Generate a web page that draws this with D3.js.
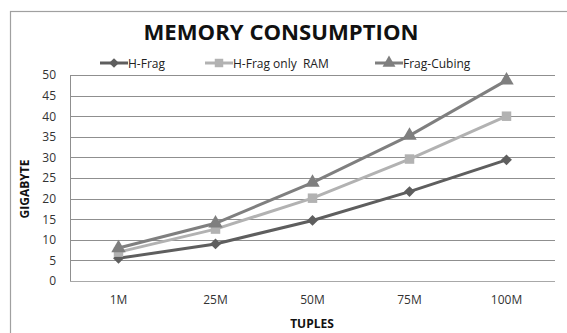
<!DOCTYPE html>
<html><head><meta charset="utf-8">
<script src="https://cdn.jsdelivr.net/npm/d3@7/dist/d3.min.js"></script>
<style>body{margin:0;background:#fff;}svg{display:block;font-family:"Open Sans","Liberation Sans",sans-serif;}</style>
</head><body>
<svg id="c" width="567" height="333"></svg>
<script>
const categories = ["1M","25M","50M","75M","100M"];
const hFrag = [5.5, 9, 14.7, 21.7, 29.4];
const hFragRam = [7, 12.6, 20.1, 29.6, 40];
const fragCubing = [8, 14, 23.9, 35.3, 48.7];
const yTicks = [0,5,10,15,20,25,30,35,40,45,50];
const seriesNames = ["H-Frag","H-Frag only  RAM","Frag-Cubing"];

const series = [
  {name: seriesNames[0], values: hFrag, color: "#5e5e5e", sym: d3.symbolDiamond2, size: 75},
  {name: seriesNames[1], values: hFragRam, color: "#b2b2b2", sym: d3.symbolSquare, size: 90},
  {name: seriesNames[2], values: fragCubing, color: "#7f7f7f", sym: d3.symbolTriangle, size: 90}
];

const svg = d3.select("#c");
svg.append("rect").attr("x",10.5).attr("y",11.5).attr("width",600).attr("height",400)
  .attr("fill","none").attr("stroke","#a0a0a0").attr("stroke-width",1.2);

const L = 70, R = 555, T = 75, B = 281;
const x = d3.scaleBand().domain(categories).range([L, R]);
const y = d3.scaleLinear().domain([0,50]).range([B, T]);

svg.append("g").selectAll("line").data(yTicks).join("line")
  .attr("x1", L).attr("x2", R)
  .attr("y1", d => Math.round(y(d))+0.5).attr("y2", d => Math.round(y(d))+0.5)
  .attr("stroke", d => d===0 ? "#a8a8a8" : "#8f8f8f").attr("stroke-width", 1);
svg.append("line").attr("x1",L+0.5).attr("x2",L+0.5).attr("y1",T).attr("y2",B)
  .attr("stroke","#8f8f8f");

const yAxis = d3.axisLeft(y).tickValues(yTicks).tickSize(0).tickPadding(14);
const gy = svg.append("g").attr("transform",`translate(${L},0)`).call(yAxis);
gy.select(".domain").remove();
gy.selectAll("text").attr("font-size",12).attr("fill","#333").attr("font-family","Open Sans, sans-serif");

const xAxis = d3.axisBottom(x).tickSize(0).tickPadding(14);
const gx = svg.append("g").attr("transform",`translate(0,${B})`).call(xAxis);
gx.select(".domain").remove();
gx.selectAll("text").attr("font-size",12).attr("fill","#333").attr("font-family","Open Sans, sans-serif");

const line = d3.line().x((d,i)=>x(categories[i])+x.bandwidth()/2).y(d=>y(d));
series.forEach(s => {
  svg.append("path").datum(s.values).attr("d", line)
    .attr("fill","none").attr("stroke", s.color).attr("stroke-width",3);
});
series.forEach(s => {
  svg.append("g").selectAll("path").data(s.values).join("path")
    .attr("transform",(d,i)=>`translate(${x(categories[i])+x.bandwidth()/2},${y(d)})`)
    .attr("d", d3.symbol().type(s.sym).size(s.size)).attr("fill", s.color);
});

svg.append("text").attr("x",281).attr("y",40).attr("text-anchor","middle")
  .attr("font-size",22).attr("font-weight","bold").attr("fill","#111")
  .attr("textLength",275).attr("lengthAdjust","spacingAndGlyphs")
  .text("MEMORY CONSUMPTION");

const legX = [100, 205, 375];
series.forEach((s,i) => {
  const g = svg.append("g").attr("transform",`translate(${legX[i]},63)`);
  g.append("line").attr("x1",0).attr("x2",28).attr("y1",0).attr("y2",0)
    .attr("stroke",s.color).attr("stroke-width",3);
  g.append("path").attr("transform","translate(14,0)")
    .attr("d", d3.symbol().type(s.sym).size(s.size*0.8)).attr("fill",s.color);
  g.append("text").attr("x",28).attr("y",4.5).attr("font-size",12).attr("fill","#222")
    .attr("font-family","Open Sans, sans-serif").style("white-space","pre").text(s.name);
});

svg.append("text").attr("transform","translate(29,189) rotate(-90)").attr("text-anchor","middle")
  .attr("font-size",12).attr("font-weight","bold").attr("fill","#111").text("GIGABYTE");
svg.append("text").attr("x",312).attr("y",328).attr("text-anchor","middle")
  .attr("font-size",12).attr("font-weight","bold").attr("fill","#111").text("TUPLES");
</script>
</body></html>
